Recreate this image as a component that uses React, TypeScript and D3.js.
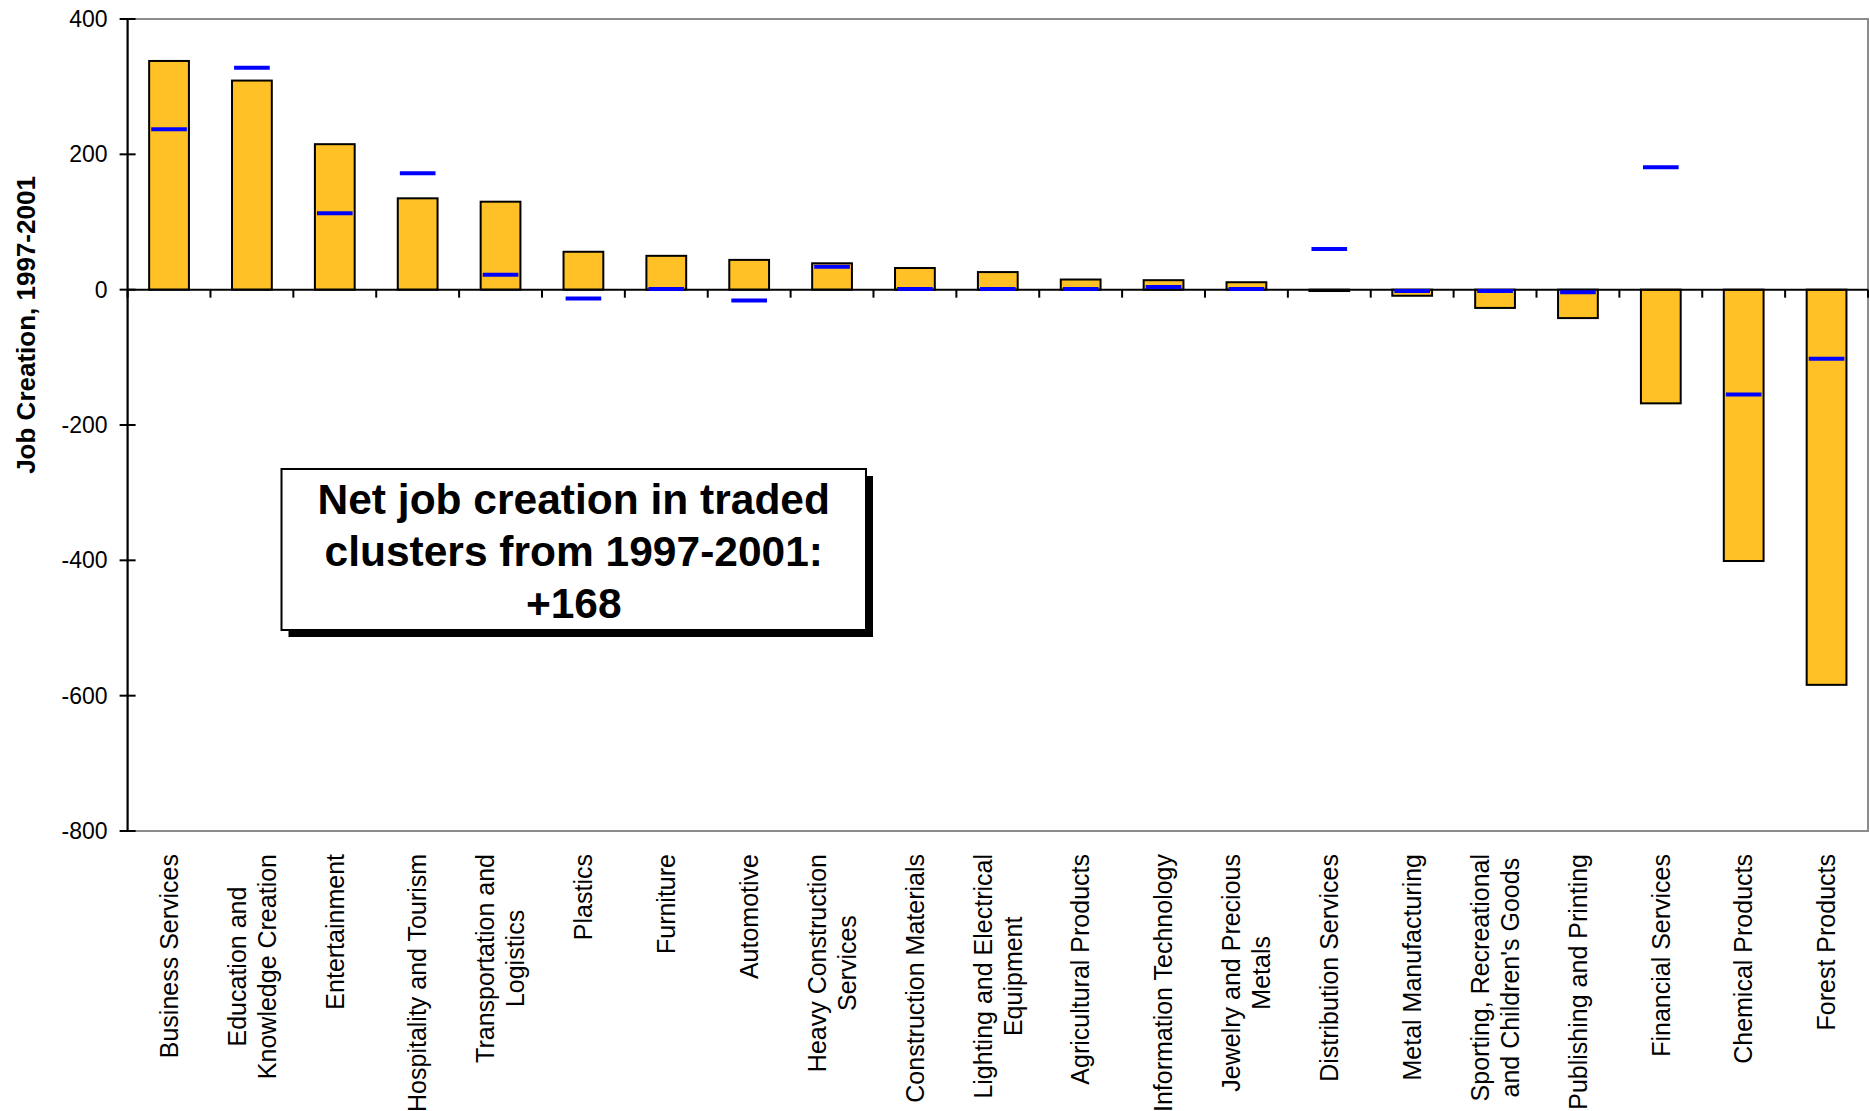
import React, { useEffect, useRef } from "react";
import * as d3 from "d3";

const categories: string[][] = [
  ["Business Services"],
  ["Education and", "Knowledge Creation"],
  ["Entertainment"],
  ["Hospitality and Tourism"],
  ["Transportation and", "Logistics"],
  ["Plastics"],
  ["Furniture"],
  ["Automotive"],
  ["Heavy Construction", "Services"],
  ["Construction Materials"],
  ["Lighting and Electrical", "Equipment"],
  ["Agricultural Products"],
  ["Information Technology"],
  ["Jewelry and Precious", "Metals"],
  ["Distribution Services"],
  ["Metal Manufacturing"],
  ["Sporting, Recreational", "and Children's Goods"],
  ["Publishing and Printing"],
  ["Financial Services"],
  ["Chemical Products"],
  ["Forest Products"],
];

const jobCreation: number[] = [
  338, 309, 215, 135, 130, 56, 50, 44, 39, 32, 26, 15, 14, 11, -2, -9, -27, -42, -168, -401, -584,
];

const markerValues: number[] = [
  237, 328, 113, 172, 22, -13, 1, -16, 34, 1, 1, 1, 4, 1, 60, -2, -2, -4, 181, -155, -102,
];

const yTicks: number[] = [400, 200, 0, -200, -400, -600, -800];

const axisTitle = "Job Creation, 1997-2001";
const noteLines: string[] = ["Net job creation in traded", "clusters from 1997-2001:", "+168"];

const W = 1870;
const H = 1111;
const FONT = "'Liberation Sans', Arial, sans-serif";

export default function App() {
  const ref = useRef<SVGSVGElement | null>(null);

  useEffect(() => {
    const svg = d3.select(ref.current);
    svg.selectAll("*").remove();

    const left = 127.6;
    const right = 1868;
    const top = 19;
    const bottom = 831;

    const keys = categories.map((_, i) => String(i));
    const x = d3.scaleBand<string>().domain(keys).range([left, right]).padding(0);
    const y = d3.scaleLinear().domain([-800, 400]).range([bottom, top]);
    const bw = x.bandwidth();

    svg
      .append("rect")
      .attr("x", left)
      .attr("y", top)
      .attr("width", right - left)
      .attr("height", bottom - top)
      .attr("fill", "#fff")
      .attr("stroke", "#8c8c8c")
      .attr("stroke-width", 2);

    svg
      .append("g")
      .selectAll("rect")
      .data(jobCreation)
      .join("rect")
      .attr("x", (_, i) => (x(String(i)) as number) + bw * 0.26)
      .attr("width", bw * 0.48)
      .attr("y", (d) => y(Math.max(0, d)))
      .attr("height", (d) => Math.abs(y(d) - y(0)))
      .attr("fill", "#FFC125")
      .attr("stroke", "#000")
      .attr("stroke-width", 2);

    svg
      .append("line")
      .attr("x1", left)
      .attr("x2", right)
      .attr("y1", y(0))
      .attr("y2", y(0))
      .attr("stroke", "#000")
      .attr("stroke-width", 2);

    const bounds = keys.map((k) => x(k) as number).concat([right]);
    svg
      .append("g")
      .selectAll("line")
      .data(bounds)
      .join("line")
      .attr("x1", (d) => d)
      .attr("x2", (d) => d)
      .attr("y1", y(0))
      .attr("y2", y(0) + 8)
      .attr("stroke", "#000")
      .attr("stroke-width", 2);

    svg
      .append("g")
      .selectAll("line")
      .data(markerValues)
      .join("line")
      .attr("x1", (_, i) => (x(String(i)) as number) + bw / 2 - bw * 0.215)
      .attr("x2", (_, i) => (x(String(i)) as number) + bw / 2 + bw * 0.215)
      .attr("y1", (d) => y(d))
      .attr("y2", (d) => y(d))
      .attr("stroke", "#0000FF")
      .attr("stroke-width", 4);

    svg
      .append("line")
      .attr("x1", left)
      .attr("x2", left)
      .attr("y1", top)
      .attr("y2", bottom)
      .attr("stroke", "#000")
      .attr("stroke-width", 2);

    const yt = svg.append("g");
    yt.selectAll("line")
      .data(yTicks)
      .join("line")
      .attr("x1", left - 8)
      .attr("x2", left + 8)
      .attr("y1", (d) => y(d))
      .attr("y2", (d) => y(d))
      .attr("stroke", "#000")
      .attr("stroke-width", 2);
    yt.selectAll("text")
      .data(yTicks)
      .join("text")
      .attr("x", left - 20)
      .attr("y", (d) => y(d))
      .attr("dy", "0.35em")
      .attr("text-anchor", "end")
      .attr("font-family", FONT)
      .attr("font-size", 23)
      .attr("fill", "#000")
      .text((d) => String(d));

    svg
      .append("text")
      .attr("transform", `translate(26,325) rotate(-90)`)
      .attr("text-anchor", "middle")
      .attr("dy", "0.35em")
      .attr("font-family", FONT)
      .attr("font-weight", "bold")
      .attr("font-size", 26)
      .text(axisTitle);

    const labelTop = 854;
    const lineH = 30;
    categories.forEach((lines, i) => {
      const cx = (x(String(i)) as number) + bw / 2;
      const g = svg.append("g");
      const texts = lines.map((ln) =>
        g
          .append("text")
          .attr("font-family", FONT)
          .attr("font-size", 25)
          .attr("fill", "#000")
          .attr("text-anchor", "middle")
          .attr("dy", "0.35em")
          .text(ln)
      );
      const widths = texts.map((t) => (t.node() as SVGTextElement).getComputedTextLength());
      const maxW = Math.max(...widths);
      texts.forEach((t, j) => {
        const off = (j - (lines.length - 1) / 2) * lineH;
        t.attr("transform", `translate(${cx + off},${labelTop + maxW / 2}) rotate(-90)`);
      });
    });

    const bx = 281.5;
    const by = 469;
    const bwid = 584.5;
    const bh = 161;
    svg
      .append("rect")
      .attr("x", bx + 7)
      .attr("y", by + 7)
      .attr("width", bwid)
      .attr("height", bh)
      .attr("fill", "#000");
    svg
      .append("rect")
      .attr("x", bx)
      .attr("y", by)
      .attr("width", bwid)
      .attr("height", bh)
      .attr("fill", "#fff")
      .attr("stroke", "#000")
      .attr("stroke-width", 2);
    svg
      .append("g")
      .selectAll("text")
      .data(noteLines)
      .join("text")
      .attr("x", bx + bwid / 2)
      .attr("y", (_, i) => 514 + i * 52)
      .attr("text-anchor", "middle")
      .attr("font-family", FONT)
      .attr("font-weight", "bold")
      .attr("font-size", 42.5)
      .attr("fill", "#000")
      .text((d) => d);
  }, []);

  return (
    <svg
      ref={ref}
      width={W}
      height={H}
      style={{ position: "absolute", left: 0, top: 0, display: "block", background: "#fff" }}
    />
  );
}
